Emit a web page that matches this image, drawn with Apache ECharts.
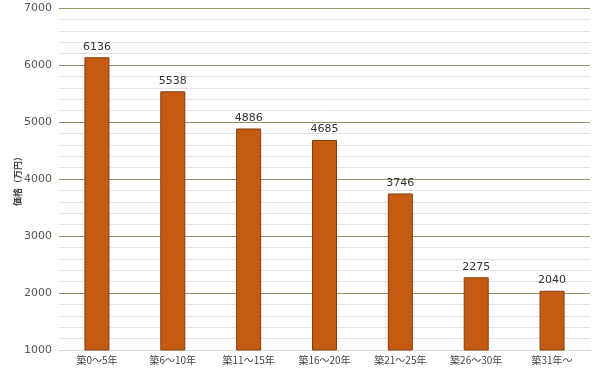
<!DOCTYPE html>
<html><head><meta charset="utf-8">
<script src="https://cdn.jsdelivr.net/npm/echarts@6/dist/echarts.min.js"></script>
<style>html,body{margin:0;padding:0;background:#fff}#c{width:600px;height:372px}</style>
</head><body><div id="c"></div>
<script>
const categories = ['築0～5年','築6～10年','築11～15年','築16～20年','築21～25年','築26～30年','築31年～'];
const values = [6136, 5538, 4886, 4685, 3746, 2275, 2040];
const yAxisName = '価格（万円）';
const chart = echarts.init(document.getElementById('c'));
chart.setOption({
  animation: false,
  grid: {left: 59, right: 10, top: 8, bottom: 22, containLabel: false, outerBoundsMode: 'none'},
  xAxis: {
    type: 'category', data: categories,
    axisTick: {show: false},
    axisLine: {show: true, lineStyle: {color: '#d9d9d9'}},
    axisLabel: {color: '#444', fontSize: 10, margin: 5, fontFamily: 'Noto Sans CJK JP'}
  },
  yAxis: {
    type: 'value', min: 1000, max: 7000, interval: 1000,
    name: yAxisName, nameLocation: 'middle', nameGap: 37, nameMoveOverlap: false,
    nameTextStyle: {color: '#444', fontSize: 9, fontWeight: 'bold', fontFamily: 'Noto Sans CJK JP'},
    axisLabel: {color: '#555', fontSize: 11, margin: 7, fontFamily: 'Verdana, DejaVu Sans', formatter: v => String(v)},
    axisLine: {show: false}, axisTick: {show: false},
    splitLine: {lineStyle: {color: '#8c9466', width: 1}},
    minorTick: {show: false, splitNumber: 5},
    minorSplitLine: {show: true, lineStyle: {color: '#e3e3e3', width: 1}}
  },
  series: [{
    type: 'bar', data: values, barWidth: 25,
    itemStyle: {color: '#c55a11', borderColor: '#843c0c', borderWidth: 1},
    label: {show: true, position: 'top', color: '#333', fontSize: 11, distance: 5, fontFamily: 'DejaVu Sans'}
  }]
});
</script></body></html>
